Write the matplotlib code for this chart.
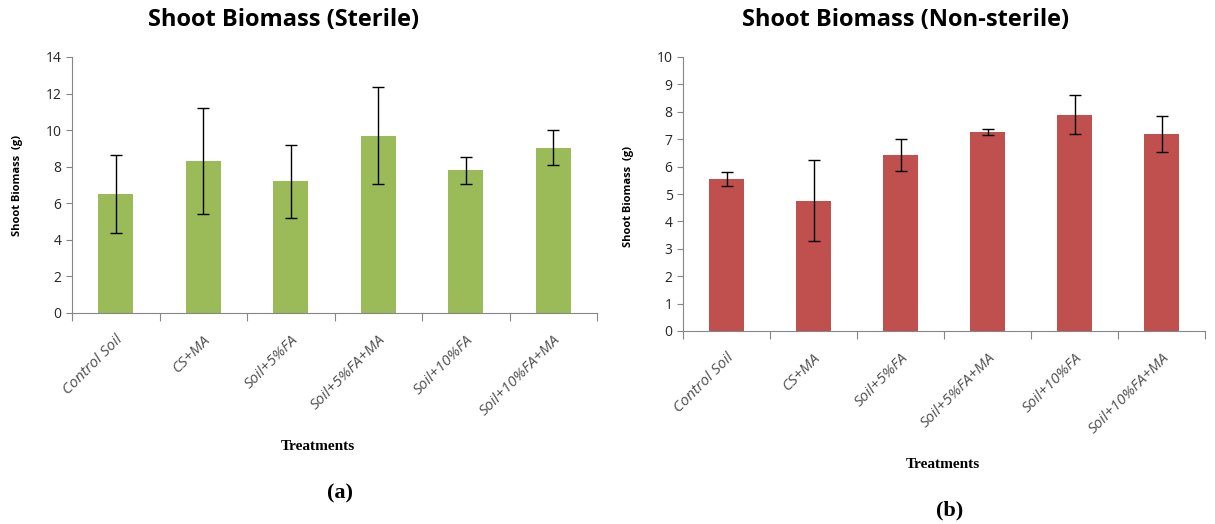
import numpy as np
import matplotlib
matplotlib.use("Agg")
import matplotlib.pyplot as plt

# Data
treatments = ["Control Soil", "CS+MA", "Soil+5%FA", "Soil+5%FA+MA", "Soil+10%FA", "Soil+10%FA+MA"]
sterile_mean = [6.5, 8.3, 7.2, 9.7, 7.8, 9.05]
sterile_err = [2.15, 2.9, 2.0, 2.65, 0.72, 0.95]
nonsterile_mean = [5.55, 4.75, 6.43, 7.25, 7.9, 7.2]
nonsterile_err = [0.27, 1.48, 0.58, 0.11, 0.72, 0.65]

W, H = 1215, 524
fig = plt.figure(figsize=(W / 100, H / 100), dpi=100)


def px(x0, y0, x1, y1):
    # pixel box (top-left origin) -> figure fraction rect
    return [x0 / W, 1 - y1 / H, (x1 - x0) / W, (y1 - y0) / H]


def draw_panel(ax, means, errs, color, ymax):
    x = np.arange(len(treatments))
    ax.bar(x, means, width=0.4, color=color, zorder=2)
    ax.errorbar(x, means, yerr=errs, fmt="none", ecolor="black",
                elinewidth=1, capsize=4, capthick=1, zorder=3)
    ax.set_xlim(-0.5, len(treatments) - 0.5)
    ax.set_ylim(0, ymax)
    for s in ["top", "right"]:
        ax.spines[s].set_visible(False)
    for s in ["left", "bottom"]:
        ax.spines[s].set_color("#868686")
    # category boundary ticks on the x axis
    ax.set_xticks(np.arange(-0.5, len(treatments)), minor=False)
    ax.set_xticklabels([])
    ax.tick_params(axis="x", length=6, color="#868686", direction="out")
    ax.set_xticks(x, minor=True)
    ax.set_xticklabels(treatments, minor=True, rotation=45, ha="right",
                       rotation_mode="anchor", style="italic",
                       fontsize=11, color="#505050", family="Open Sans")
    ax.tick_params(axis="x", which="minor", length=0, pad=14)
    ax.tick_params(axis="y", length=4, color="#868686", labelsize=10,
                   labelcolor="#262626")


ax1 = fig.add_axes(px(72, 57, 597, 313))
draw_panel(ax1, sterile_mean, sterile_err, "#9BBB59", 14)
ax1.set_yticks(range(0, 15, 2))

ax2 = fig.add_axes(px(683, 57, 1205, 331))
draw_panel(ax2, nonsterile_mean, nonsterile_err, "#C0504D", 10)
ax2.set_yticks(range(0, 11, 1))

for a in (ax1, ax2):
    for lab in a.get_yticklabels():
        lab.set_family("Open Sans")

# titles
fig.text(284 / W, 1 - 20 / H, "Shoot Biomass (Sterile)", ha="center", va="center",
         fontsize=17, fontweight="bold", family="Open Sans")
fig.text(906 / W, 1 - 20 / H, "Shoot Biomass (Non-sterile)", ha="center", va="center",
         fontsize=17, fontweight="bold", family="Open Sans")

# y labels
fig.text(18 / W, 1 - 185 / H, "Shoot Biomass  (g)", rotation=90, ha="center", va="center",
         fontsize=8, fontweight="bold", family="Open Sans")
fig.text(628 / W, 1 - 196 / H, "Shoot Biomass  (g)", rotation=90, ha="center", va="center",
         fontsize=8, fontweight="bold", family="Open Sans")

# x labels
fig.text(318 / W, 1 - 446 / H, "Treatments", ha="center", va="center",
         fontsize=11, fontweight="bold", family="Liberation Serif")
fig.text(943 / W, 1 - 465 / H, "Treatments", ha="center", va="center",
         fontsize=11, fontweight="bold", family="Liberation Serif")

# panel letters
fig.text(340 / W, 1 - 493 / H, "(a)", ha="center", va="center",
         fontsize=16, fontweight="bold", family="Liberation Serif")
fig.text(950 / W, 1 - 510 / H, "(b)", ha="center", va="center",
         fontsize=16, fontweight="bold", family="Liberation Serif")

fig.savefig("out.png", dpi=100)
